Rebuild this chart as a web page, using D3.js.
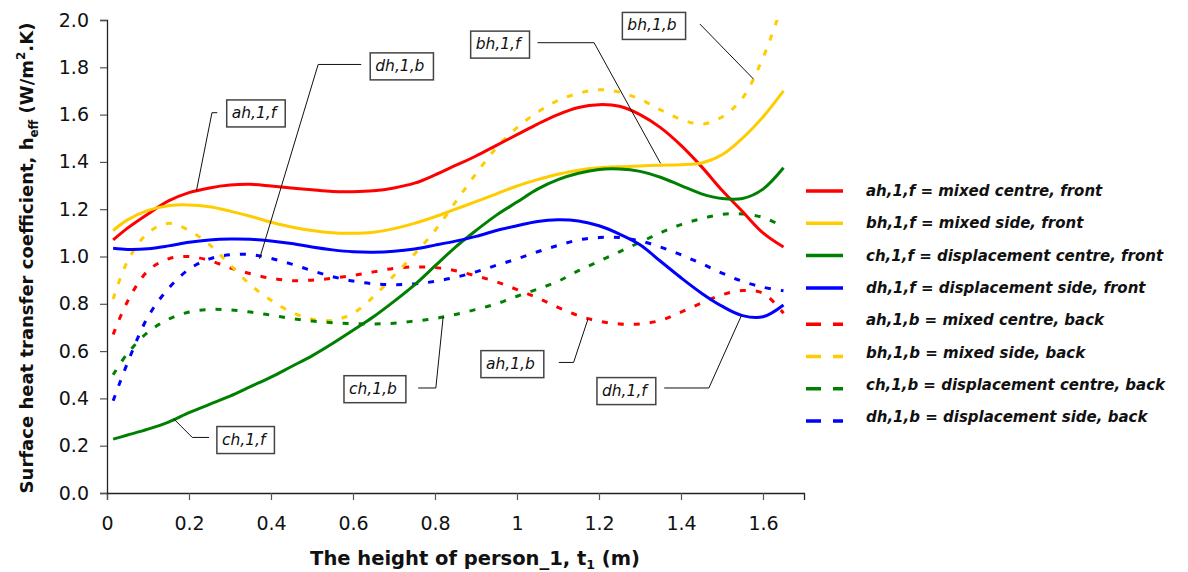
<!DOCTYPE html>
<html>
<head>
<meta charset="utf-8">
<script src="https://cdn.jsdelivr.net/npm/d3@7"></script>
<style>
    body { margin: 0; background: #fff; }
    svg { display: block; font-family: 'DejaVu Sans', sans-serif; }
</style>
</head>
<body>
<script>
// Heights along person_1 (m), shared by all curves
const heights = [0.015, 0.05, 0.1, 0.15, 0.2, 0.25, 0.3, 0.35, 0.4, 0.45, 0.5, 0.55, 0.6, 0.65, 0.7, 0.75, 0.8,
    0.85, 0.9, 0.95, 1.0, 1.05, 1.1, 1.15, 1.2, 1.25, 1.3, 1.35, 1.4, 1.45, 1.5, 1.55, 1.6, 1.65];

// Front side curves
const ahFront = [1.07, 1.12, 1.18, 1.235, 1.27, 1.29, 1.302, 1.305, 1.298, 1.29, 1.282, 1.275, 1.274, 1.278, 1.29,
    1.31, 1.345, 1.385, 1.425, 1.47, 1.515, 1.56, 1.6, 1.63, 1.642, 1.635, 1.6, 1.545, 1.47, 1.38, 1.28, 1.19, 1.1, 1.04];
const bhFront = [1.11, 1.155, 1.195, 1.215, 1.218, 1.21, 1.192, 1.17, 1.145, 1.125, 1.11, 1.1, 1.098, 1.103, 1.118,
    1.14, 1.168, 1.2, 1.232, 1.265, 1.298, 1.325, 1.348, 1.365, 1.375, 1.38, 1.383, 1.386, 1.388, 1.395, 1.43, 1.5, 1.59, 1.7];
const chFront = [0.228, 0.245, 0.27, 0.3, 0.34, 0.375, 0.41, 0.45, 0.49, 0.535, 0.58, 0.632, 0.688, 0.745, 0.81,
    0.88, 0.96, 1.04, 1.11, 1.175, 1.23, 1.285, 1.325, 1.352, 1.368, 1.37, 1.36, 1.335, 1.3, 1.265, 1.245, 1.245, 1.285, 1.375];
const dhFront = [1.035, 1.03, 1.033, 1.045, 1.06, 1.07, 1.074, 1.073, 1.066, 1.055, 1.04, 1.028, 1.02, 1.018, 1.022,
    1.032, 1.048, 1.065, 1.085, 1.11, 1.13, 1.148, 1.155, 1.15, 1.13, 1.095, 1.05, 0.98, 0.91, 0.845, 0.79, 0.75, 0.745, 0.795];

// Back side curves
const ahBack = [0.67, 0.81, 0.94, 0.99, 1.0, 0.983, 0.952, 0.927, 0.908, 0.898, 0.9, 0.908, 0.92, 0.935, 0.95,
    0.956, 0.953, 0.94, 0.918, 0.893, 0.86, 0.825, 0.785, 0.75, 0.726, 0.715, 0.715, 0.73, 0.765, 0.803, 0.838, 0.856, 0.845, 0.76];
const bhBack = [0.82, 0.98, 1.1, 1.14, 1.11, 1.05, 0.965, 0.88, 0.815, 0.765, 0.735, 0.73, 0.76, 0.83, 0.92,
    1.01, 1.11, 1.23, 1.35, 1.46, 1.545, 1.61, 1.66, 1.69, 1.705, 1.695, 1.665, 1.62, 1.58, 1.56, 1.59, 1.67, 1.84, 2.08];
const chBack = [0.5, 0.59, 0.68, 0.735, 0.765, 0.776, 0.774, 0.765, 0.752, 0.738, 0.727, 0.72, 0.716, 0.715, 0.718,
    0.727, 0.738, 0.755, 0.776, 0.8, 0.832, 0.862, 0.895, 0.94, 0.98, 1.02, 1.06, 1.1, 1.135, 1.16, 1.178, 1.18, 1.165, 1.125];
const dhBack = [0.39, 0.55, 0.745, 0.865, 0.946, 0.99, 1.007, 1.008, 0.992, 0.968, 0.94, 0.915, 0.896, 0.885, 0.881,
    0.884, 0.895, 0.912, 0.935, 0.963, 0.99, 1.02, 1.047, 1.07, 1.08, 1.08, 1.066, 1.04, 1.007, 0.97, 0.93, 0.895, 0.87, 0.855];

// Tick values and labels
const xTicks = [0, 0.2, 0.4, 0.6, 0.8, 1, 1.2, 1.4, 1.6];
const xTickLabels = ['0', '0.2', '0.4', '0.6', '0.8', '1', '1.2', '1.4', '1.6'];
const yTicks = [0, 0.2, 0.4, 0.6, 0.8, 1.0, 1.2, 1.4, 1.6, 1.8, 2.0];

// Legend labels
const seriesKeys = ['ah,1,f', 'bh,1,f', 'ch,1,f', 'dh,1,f', 'ah,1,b', 'bh,1,b', 'ch,1,b', 'dh,1,b'];
const seriesNames = ['mixed centre, front', 'mixed side, front', 'displacement centre, front', 'displacement side, front',
    'mixed centre, back', 'mixed side, back', 'displacement centre, back', 'displacement side, back'];
const seriesColors = ['#ff0000', '#ffcc00', '#008000', '#0000ff', '#ff0000', '#ffcc00', '#008000', '#0000ff'];
const seriesValues = [ahFront, bhFront, chFront, dhFront, ahBack, bhBack, chBack, dhBack];

// Callout labels: box corner, then leader line points (all in data units)
const callouts = [
    { label: 'ah,1,f', box: [0.292, 1.662], leader: [[0.269, 1.608], [0.256, 1.608], [0.218, 1.277]] },
    { label: 'dh,1,b', box: [0.642, 1.861], leader: [[0.62, 1.812], [0.515, 1.812], [0.372, 0.99]] },
    { label: 'bh,1,f', box: [0.887, 1.953], leader: [[1.05, 1.904], [1.188, 1.904], [1.35, 1.394]] },
    { label: 'bh,1,b', box: [1.257, 2.032], leader: [[1.446, 1.983], [1.577, 1.75]] },
    { label: 'ch,1,f', box: [0.268, 0.281], leader: [[0.249, 0.235], [0.208, 0.235], [0.163, 0.313]] },
    { label: 'ch,1,b', box: [0.578, 0.496], leader: [[0.759, 0.444], [0.802, 0.444], [0.82, 0.746]] },
    { label: 'ah,1,b', box: [0.912, 0.602], leader: [[1.102, 0.552], [1.138, 0.552], [1.173, 0.735]] },
    { label: 'dh,1,f', box: [1.195, 0.488], leader: [[1.359, 0.444], [1.468, 0.444], [1.547, 0.749]] },
];

const margin = { top: 20, bottom: 79, left: 107, right: 384 };
const width = 1188 - margin.left - margin.right;
const height = 572 - margin.top - margin.bottom;

const svg = d3.select('body').append('svg').attr('width', 1188).attr('height', 572);
svg.append('rect').attr('width', 1188).attr('height', 572).attr('fill', '#fff');

const g = svg.append('g').attr('transform', `translate(${margin.left},${margin.top})`);

// Scales
const xscale = d3.scaleLinear().domain([0, 1.7]).range([0, width]);
const yscale = d3.scaleLinear().domain([0, 2]).range([height, 0]);

// Clip so curves stop at the top of the plot
svg.append('clipPath').attr('id', 'plot-clip')
    .append('rect').attr('x', 0).attr('y', 0).attr('width', width).attr('height', height);

// Axes
const xaxis = d3.axisBottom(xscale).tickValues(xTicks).tickSize(7).tickPadding(17)
    .tickFormat((d, i) => xTickLabels[i]);
const yaxis = d3.axisLeft(yscale).tickValues(yTicks).tickSize(7).tickPadding(11).tickFormat(d3.format('.1f'));

const g_xaxis = g.append('g').attr('transform', `translate(0,${height})`).call(xaxis);
const g_yaxis = g.append('g').call(yaxis);

[g_xaxis, g_yaxis].forEach((ax) => {
    ax.select('.domain').attr('stroke', '#222').attr('stroke-width', 1.3);
    ax.selectAll('.tick line').attr('stroke', '#555').attr('stroke-width', 1.2);
    ax.selectAll('.tick text').attr('fill', '#111').style('font-size', '19px')
        .style('font-family', "'DejaVu Sans', sans-serif");
});

// Curves
const series = seriesKeys.map((k, i) => ({
    key: k,
    color: seriesColors[i],
    dashed: i >= 4,
    points: heights.map((h, j) => [h, seriesValues[i][j]]),
}));

const line = d3.line()
    .x((d) => xscale(d[0]))
    .y((d) => yscale(d[1]))
    .curve(d3.curveCatmullRom.alpha(0.5));

const plot = g.append('g').attr('clip-path', 'url(#plot-clip)');
// back curves first, front curves on top
plot.selectAll('path.curve')
    .data(series.slice().sort((a, b) => b.dashed - a.dashed))
    .join('path')
    .attr('class', 'curve')
    .attr('fill', 'none')
    .attr('stroke', (d) => d.color)
    .attr('stroke-width', 3)
    .attr('stroke-dasharray', (d) => (d.dashed ? '6,10' : null))
    .attr('d', (d) => line(d.points));

// Callouts with leader lines
const calloutG = g.selectAll('g.callout').data(callouts).join('g').attr('class', 'callout');

calloutG.append('polyline')
    .attr('fill', 'none')
    .attr('stroke', '#111')
    .attr('stroke-width', 1)
    .attr('points', (d) => d.leader.map((p) => `${xscale(p[0])},${yscale(p[1])}`).join(' '));

calloutG.each(function (d) {
    const cg = d3.select(this);
    const bx = xscale(d.box[0]);
    const by = yscale(d.box[1]);
    const rect = cg.append('rect');
    const txt = cg.append('text')
        .attr('x', bx + 5)
        .attr('y', by + 18)
        .attr('fill', '#111')
        .style('font-size', '15.5px')
        .style('font-style', 'italic')
        .text(d.label);
    const w = txt.node().getComputedTextLength();
    rect.attr('x', bx).attr('y', by).attr('width', w + 14).attr('height', 27)
        .attr('fill', '#fff').attr('stroke', '#444').attr('stroke-width', 1.5);
});

// Axis titles
svg.append('text')
    .attr('text-anchor', 'middle')
    .attr('x', 475)
    .attr('y', 565)
    .style('font-size', '19.5px')
    .style('font-weight', 'bold')
    .attr('fill', '#111')
    .call((t) => {
        t.append('tspan').text('The height of person_1, t');
        t.append('tspan').attr('dy', 4).style('font-size', '12.5px').text('1');
        t.append('tspan').attr('dy', -4).text(' (m)');
    });

svg.append('text')
    .attr('text-anchor', 'middle')
    .attr('transform', 'translate(33,258) rotate(-90)')
    .style('font-size', '18px')
    .style('font-weight', 'bold')
    .attr('fill', '#111')
    .call((t) => {
        t.append('tspan').text('Surface heat transfer coefficient, h');
        t.append('tspan').attr('dy', 5).style('font-size', '12px').text('eff');
        t.append('tspan').attr('dy', -5).text(' (W/m');
        t.append('tspan').attr('dy', -8).style('font-size', '12px').text('2');
        t.append('tspan').attr('dy', 8).text('.K)');
    });

// Legend
const legend = svg.append('g').attr('transform', 'translate(806,190)');
const rows = legend.selectAll('g').data(series).join('g')
    .attr('transform', (d, i) => `translate(0,${i * 32.3})`);

rows.append('line')
    .attr('x1', 0).attr('x2', 37)
    .attr('y1', (d) => (d.dashed ? 5 : 1)).attr('y2', (d) => (d.dashed ? 5 : 1))
    .attr('stroke', (d) => d.color)
    .attr('stroke-width', 3.5)
    .attr('stroke-dasharray', (d) => (d.dashed ? '15,12' : null));

rows.append('text')
    .attr('x', 60)
    .attr('y', 6)
    .attr('fill', '#111')
    .style('font-size', '15px')
    .style('font-weight', 'bold')
    .style('font-style', 'italic')
    .text((d, i) => `${d.key} = ${seriesNames[i]}`);
</script>
</body>
</html>
